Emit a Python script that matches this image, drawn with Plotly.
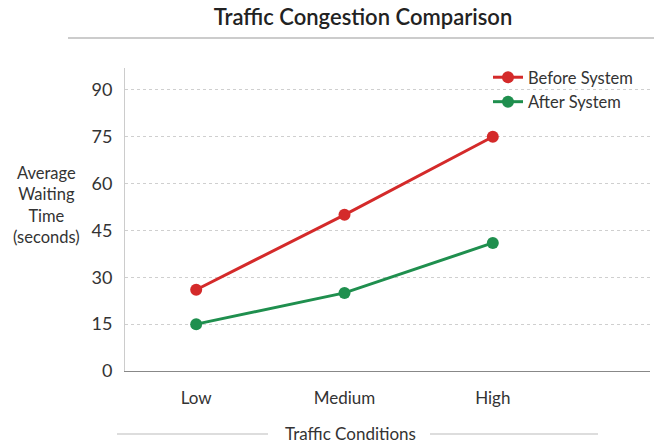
import plotly.graph_objects as go

categories = ["Low", "Medium", "High"]
before_system = [26, 50, 75]
after_system = [15, 25, 41]
y_ticks = [0, 15, 30, 45, 60, 75, 90]

RED = "#d42a2a"
GREEN = "#1f8f4e"
TEXT = "#333333"
FONT = "Lato"

# plot area in pixels
L, R, T, B = 125, 4, 68, 74
W, H = 654, 445
pw = W - L - R
ph = H - T - B

def px_x(x):
    return (x - L) / pw

def px_y(y):
    return (H - B - y) / ph

fig = go.Figure()
fig.add_trace(go.Scatter(x=categories, y=before_system, mode="lines+markers",
                         name="Before System",
                         line=dict(color=RED, width=3),
                         marker=dict(color=RED, size=12)))
fig.add_trace(go.Scatter(x=categories, y=after_system, mode="lines+markers",
                         name="After System",
                         line=dict(color=GREEN, width=3),
                         marker=dict(color=GREEN, size=12)))

fig.update_layout(
    width=W, height=H,
    margin=dict(l=L, r=R, t=T, b=B),
    paper_bgcolor="white", plot_bgcolor="white",
    font=dict(family=FONT, color=TEXT, size=16),
    title=dict(text="Traffic Congestion Comparison", x=363 / W, xanchor="center",
               y=1 - 17 / H, yanchor="middle",
               font=dict(family=FONT, size=22, color="#222222", weight=600)),
    legend=dict(x=px_x(488), y=px_y(60), xanchor="left", yanchor="top",
                font=dict(size=16.5), bgcolor="rgba(0,0,0,0)",
                tracegroupgap=0, itemwidth=30),
    showlegend=True,
)

fig.update_xaxes(range=[-0.48, 3.06], showgrid=False, showline=True,
                 linecolor="#888888", linewidth=1, ticks="",
                 tickfont=dict(size=17, color=TEXT), ticklabelstandoff=12,
                 fixedrange=True)
fig.update_yaxes(range=[0, 97], tickvals=y_ticks, showgrid=True,
                 gridcolor="#cfcfcf", griddash="dot", gridwidth=1,
                 showline=True, linecolor="#cccccc", linewidth=1,
                 zeroline=False, ticks="", tickfont=dict(size=18, color=TEXT),
                 ticklabelstandoff=8, fixedrange=True)

# y axis title (horizontal, multi-line)
fig.add_annotation(text="Average<br>Waiting<br>Time<br>(seconds)",
                   xref="paper", yref="paper", x=px_x(46), y=px_y(205),
                   xanchor="center", yanchor="middle", showarrow=False,
                   align="center", font=dict(size=16.5, color=TEXT))

# x axis title with side rules
fig.add_annotation(text="Traffic Conditions", xref="paper", yref="paper",
                   x=px_x(350), y=px_y(433), xanchor="center", yanchor="middle",
                   showarrow=False, font=dict(size=17, color=TEXT))
fig.add_shape(type="line", xref="paper", yref="paper",
              x0=px_x(117), x1=px_x(268), y0=px_y(434), y1=px_y(434),
              line=dict(color="#bbbbbb", width=1))
fig.add_shape(type="line", xref="paper", yref="paper",
              x0=px_x(430), x1=px_x(598), y0=px_y(434), y1=px_y(434),
              line=dict(color="#bbbbbb", width=1))

# rule under the title
fig.add_shape(type="line", xref="paper", yref="paper",
              x0=px_x(68), x1=px_x(654), y0=px_y(38), y1=px_y(38),
              line=dict(color="#999999", width=1))

fig.write_html("out.html",
               config={"displayModeBar": False},
               post_script="document.body.style.margin='0';document.body.style.overflow='hidden';")
